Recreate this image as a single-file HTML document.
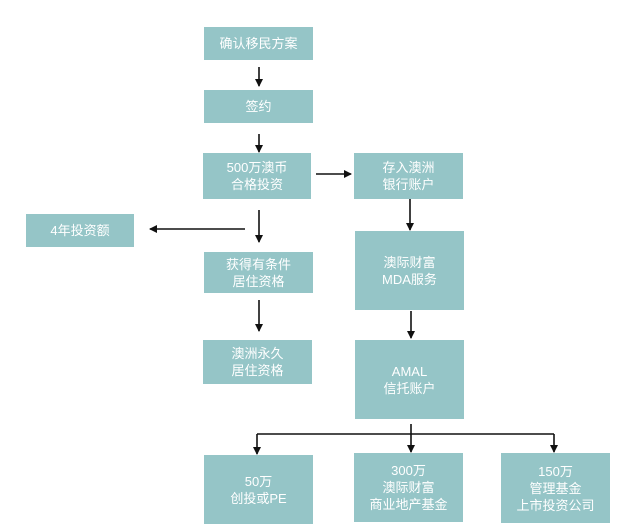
<!DOCTYPE html>
<html><head><meta charset="utf-8"><style>
body{margin:0;width:640px;height:524px;background:#fff;position:relative;overflow:hidden;font-family:"Liberation Sans","Noto Sans CJK SC",sans-serif;}
.b{position:absolute;background:#95c5c7;color:#fff;font-size:13px;line-height:17px;display:flex;align-items:center;justify-content:center;text-align:center;}
svg{position:absolute;left:0;top:0;}
</style></head><body>
<div class="b" style="left:204px;top:27px;width:109px;height:33px">确认移民方案</div>
<div class="b" style="left:204px;top:90px;width:109px;height:33px">签约</div>
<div class="b" style="left:203px;top:153px;width:108px;height:46px">500万澳币<br>合格投资</div>
<div class="b" style="left:354px;top:153px;width:109px;height:46px">存入澳洲<br>银行账户</div>
<div class="b" style="left:26px;top:214px;width:108px;height:33px">4年投资额</div>
<div class="b" style="left:204px;top:252px;width:109px;height:41px">获得有条件<br>居住资格</div>
<div class="b" style="left:203px;top:340px;width:109px;height:44px">澳洲永久<br>居住资格</div>
<div class="b" style="left:355px;top:231px;width:109px;height:79px">澳际财富<br>MDA服务</div>
<div class="b" style="left:355px;top:340px;width:109px;height:79px">AMAL<br>信托账户</div>
<div class="b" style="left:204px;top:455px;width:109px;height:69px">50万<br>创投或PE</div>
<div class="b" style="left:354px;top:453px;width:109px;height:69px">300万<br>澳际财富<br>商业地产基金</div>
<div class="b" style="left:501px;top:453px;width:109px;height:70px">150万<br>管理基金<br>上市投资公司</div>
<svg width="640" height="524">
<defs><marker id="a" markerWidth="8" markerHeight="8" refX="7" refY="4" orient="auto" markerUnits="userSpaceOnUse"><path d="M0,0 L8,4 L0,8 Z" fill="#111"/></marker></defs>
<g stroke="#111" stroke-width="1.6" fill="none" marker-end="url(#a)">
<line x1="259" y1="67" x2="259" y2="86"/>
<line x1="259" y1="134" x2="259" y2="152"/>
<line x1="316" y1="174" x2="351" y2="174"/>
<line x1="259" y1="210" x2="259" y2="242"/>
<line x1="245" y1="229" x2="150" y2="229"/>
<line x1="410" y1="199" x2="410" y2="230"/>
<line x1="259" y1="300" x2="259" y2="331"/>
<line x1="411" y1="311" x2="411" y2="338"/>
<line x1="257" y1="434" x2="257" y2="454"/>
<line x1="411" y1="424" x2="411" y2="452"/>
<line x1="554" y1="434" x2="554" y2="452"/>
</g>
<line x1="257" y1="434" x2="554" y2="434" stroke="#111" stroke-width="1.6"/>
</svg>
</body></html>
